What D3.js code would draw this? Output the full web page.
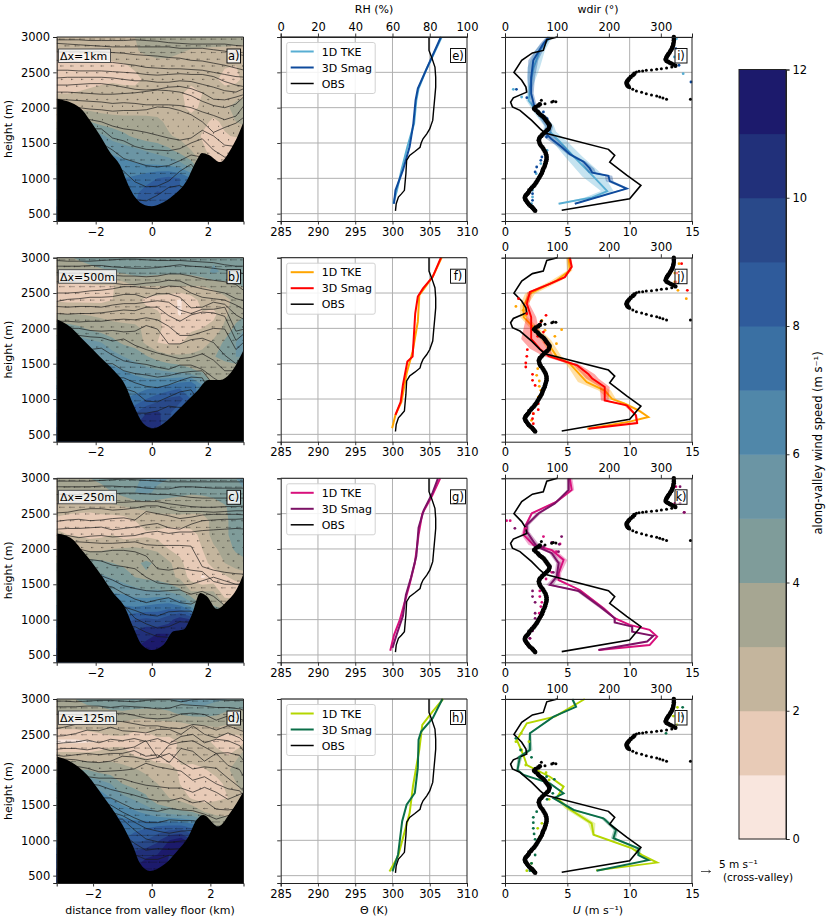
<!DOCTYPE html>
<html>
<head>
<meta charset="utf-8">
<script src="https://d3js.org/d3.v7.min.js"></script>
<style>
  body { margin: 0; background: #fff; }
  text { font-family: "DejaVu Sans", sans-serif; fill: #000; }
</style>
</head>
<body>
<div id="chart"></div>
<script>
// along-valley wind cross sections + theta and wind profiles, 4 resolutions

const levelColors = ['#f9e6de', '#e8cbb7', '#c4b59d', '#a6a692', '#7f9c9a', '#6b95a4', '#5087a9',
  '#3a70a3', '#2f5b9b', '#29498a', '#21307a', '#1c1a6c'];
const levelTicks = [0, 2, 4, 6, 8, 10, 12];

const gridX = [-3.4, -3, -2.6, -2.2, -1.8, -1.4, -1, -0.6, -0.2, 0.2, 0.6, 1, 1.4, 1.8, 2.2, 2.6, 3, 3.4];
const gridZ = [3000, 2800, 2600, 2400, 2200, 2000, 1800, 1600, 1400, 1200, 1000, 800, 600, 400];

// wind speed on gridX / gridZ
const speedA = [
  [2.4,2.4,2.5,2.6,2.7,2.8,2.9,3.0,3.2,3.3,3.5,3.6,3.6,3.7,3.7,3.8,3.7,3.6],
  [2.0,2.0,2.1,2.2,2.4,2.5,2.7,2.9,3.2,3.4,3.4,3.1,2.9,2.8,2.7,2.6,2.5,2.5],
  [1.5,1.3,1.4,1.6,1.7,1.8,1.9,2.2,2.5,2.6,2.6,2.5,2.4,2.3,2.2,2.1,2.0,2.2],
  [1.3,1.2,1.5,1.7,1.8,1.9,1.8,1.7,2.2,2.4,2.5,2.6,2.4,2.4,2.2,1.7,1.8,2.3],
  [2.0,2.0,2.1,2.2,2.3,2.3,2.3,2.4,2.5,2.5,2.5,2.2,1.5,2.0,2.4,2.4,2.5,2.8],
  [3,3,2.8,2.7,2.6,2.5,2.5,2.5,2.6,2.6,2.5,2.3,1.7,2.2,2.5,2.7,3.4,3.8],
  [4,4,4,4,3.6,3.5,3.4,3.4,3.3,3.2,2.8,2.6,2.5,2.3,1.8,2.2,3.0,3.3],
  [5.5,5.5,5.5,5.5,5.2,4.6,4.2,3.8,3.5,3.4,3.1,2.8,2.6,1.9,1.7,1.9,2.1,2.5],
  [6,6,6,6,6,5.7,5.5,5.2,4.9,4.6,4.2,3.6,3,2.2,1.6,1.3,1,1],
  [6.5,6.5,6.5,6.5,6.5,6.5,6.3,6.1,6,5.9,5.7,5.3,4.4,3,2,2,2,2],
  [7,7,7,7,7,7,7,7.2,7.6,8,8.3,8,7,6,6,6,6,6],
  [7.5,7.5,7.5,7.5,7.5,7.5,7.5,7.8,8.4,9.1,8.8,8,7,6,6,6,6,6],
  [8,8,8,8,8,8,8,8,8.4,8.6,8,7,6,6,6,6,6,6],
  [8,8,8,8,8,8,8,8,8.4,8.6,8,7,6,6,6,6,6,6]
];
const speedB = [
  [3.8,3.9,4.1,4.3,4.6,4.8,5,5,5,5,5,5,5,5,4.8,4.7,4.6,4.4],
  [3.5,3.5,3.6,3.7,3.8,4,4.2,4.4,4.4,4.3,4.2,4.2,4.3,4.6,5.2,4.8,4.6,4.4],
  [1.8,1.7,1.7,1.8,1.9,1.9,2.5,3,3,3,3,3,3,3,3.2,3.6,3.9,4.1],
  [1.9,1.8,1.8,1.8,1.8,2,2.4,2.4,1.7,1.5,1.3,0.9,1.5,2.4,2.5,2.7,3.3,3.8],
  [3,3,3,2.9,2.8,2.6,2.5,2.5,2.5,2.2,1.5,0.9,1.6,1.9,1.7,2.8,3.5,4],
  [4.5,4.5,4.2,3.8,3.5,3.4,3.3,3.2,2.8,2.2,1.7,1.8,1.9,2,2.4,3.2,4.3,5.2],
  [5.5,5.5,5.5,5.3,5,4.3,3.8,3.6,2.8,2.0,1.8,1.9,2.3,2.6,3.2,4.2,5,5.4],
  [6,6,6,6,5.8,5.5,5,4.6,4.1,3.6,3.2,3.2,3.2,3.4,3.9,4.5,5,5],
  [6.5,6.5,6.5,6.5,6.5,6.3,6,5.7,5.4,5.1,4.9,4.6,4.2,3.8,3.4,3,3,3],
  [7,7,7,7,7,7,6.8,6.6,6.5,6.7,7,7.5,7.8,6,4,4,4,4],
  [7,7,7,7,7,7,7,7.2,8,8.6,9.2,9.4,8,6,6,6,6,6],
  [8,8,8,8,8,8,8,9,10,10.3,9.2,8,7,6,6,6,6,6],
  [9,9,9,9,9,9,9,10,10.4,10.3,9.4,8,7,6,6,6,6,6],
  [9,9,9,9,9,9,9,10,10.4,10.3,9.4,8,7,6,6,6,6,6]
];
const speedC = [
  [3.7,3.8,3.9,4,4.2,4.4,4.5,4.8,5.2,5.2,5,4.6,4.5,4.5,4.5,4.6,5,5.5],
  [3.3,3.3,3.4,3.5,3.7,4,4.4,5,5.2,4.8,4.4,4.2,4.1,4.2,4.4,4.6,4.8,5],
  [2.8,2.6,2.5,2.5,2.7,2.8,3,3.2,3.2,3.3,3.4,3.5,3.4,3.3,3.4,3.9,4.5,5.2],
  [1.7,1.5,1.4,1.3,1.4,1.4,1.5,2,2.5,2.7,2.6,2.6,2.6,2.7,3.2,3.8,4.4,5],
  [2.2,2,1.9,1.7,1.8,2,1.5,1.6,1.8,1.6,1.3,1.4,1.6,2.3,3.4,3.9,4.2,4.5],
  [3,3,2.7,2.7,2.8,3,3.1,3.2,3,2.8,2,1.5,1.3,2,2.8,3.4,4.2,4.6],
  [5,5,4.6,4.5,4.3,4,3.8,3.8,4.2,3.8,3.2,2.4,1.1,1.5,2.5,3,3.4,3.8],
  [5.5,5.5,5.5,5.4,5.2,4.9,4.5,4,3.8,3.6,3.3,2.8,1.6,0.9,1.2,1.8,2.4,2.5],
  [6,6,6,6,6,5.9,5.7,5.4,5.1,5.2,4.9,4.3,3,3,3,1.2,1,1],
  [7,7,7,7,7,7,7,6.8,7,7.2,7.4,7,5.6,4,4,3,3,3],
  [8,8,8,8,8,8,8.5,9,9.2,9,9.6,10.6,10,7,6,6,6,6],
  [9,9,9,9,9,9,10,10.3,10.8,11,11,10.5,9.5,8,8,8,8,8],
  [10,10,10,10,10,10,10.5,11,11.2,11.2,10.8,9.5,8,8,8,8,8,8],
  [10,10,10,10,10,10,10.5,11,11.2,11.2,10.8,9.5,8,8,8,8,8,8]
];
const speedD = [
  [3.2,3.6,4,4.5,4.7,5,5,5.1,5,4.8,5,5.3,5.5,5.5,5.2,5,4.5,4.4],
  [3,3,3.2,3.3,3.4,3.7,3.8,3.6,3.5,3.6,3.8,4.2,4.4,4.4,4.2,3.8,3.8,3.9],
  [2.2,2.2,2.2,2.4,2.7,2.7,2.5,2.2,2.2,2.5,2.4,2.4,2.7,2.8,3,2.8,3,3.4],
  [0.8,0.8,0.8,0.9,1,1.5,1.7,1.6,1.6,1.8,1.8,2.1,2.3,2.3,1.7,1,1.3,3],
  [2.4,2.4,2.4,2.3,2.5,2.7,2.5,2,1.8,1.8,1.7,2.2,2.3,2.8,2.4,2,3,4],
  [4,4,4,4,3.5,3.4,3.3,3.1,2.8,2.2,2.2,1.9,1.8,1.9,2.5,2.9,3.6,4.8],
  [6,6,6,6,5.6,5,4,3.6,3.4,3,2.8,1.9,1.8,1.7,1.5,2.4,3.2,4.8],
  [6.5,6.5,6.5,6.5,6.5,6,5.3,4.8,4.2,3.2,3,2.6,1.8,1.5,1.8,2,2.6,3.5],
  [7,7,7,7,7,7,6.6,6.2,5.7,5,4.5,4.2,4,3,2.7,2.5,2.5,2.5],
  [7.5,7.5,7.5,7.5,7.5,7.5,7.5,7.6,7.8,8,8.2,8.2,7.6,6.5,4,4,4,4],
  [8,8,8,8,8,8,8,8.5,9,9.8,11,11.6,10,7,7,7,7,7],
  [10,10,10,10,10,10,10,10.5,10.8,11,11,11.2,10,9,8,8,8,8],
  [11,11,11,11,11,11,11,11,11.5,11.5,10.8,10,9,8,8,8,8,8],
  [11,11,11,11,11,11,11,11,11.5,11.5,10.8,10,9,8,8,8,8,8]
];

// terrain height along the section: [km, m]
const terrainA = [[-3.39,2127],[-2.56,2000],[-2.2,1820],[-1.85,1610],[-1.49,1370],[-1.13,1185],[-0.83,900],[-0.6,735],[-0.24,620],[0,604],[0.3,640],[0.77,760],[1.25,970],[1.6,1255],[1.79,1360],[2.02,1335],[2.44,1230],[2.8,1400],[3.1,1630],[3.27,1800]];
const terrainB = [[-3.39,2130],[-2.9,2020],[-2.44,1835],[-1.85,1600],[-1.37,1410],[-0.95,1200],[-0.65,915],[-0.3,655],[0.06,585],[0.42,655],[1,870],[1.6,1105],[2.02,1270],[2.44,1270],[2.8,1365],[3.27,1695]];
const terrainC = [[-3.39,2220],[-2.9,2160],[-2.44,1960],[-1.85,1655],[-1.37,1375],[-0.95,1165],[-0.65,880],[-0.36,645],[0,570],[0.42,645],[0.77,835],[1.13,860],[1.43,1070],[1.73,1375],[1.96,1330],[2.32,1150],[2.68,1260],[3.04,1440],[3.27,1650]];
const terrainD = [[-3.24,2185],[-2.78,2115],[-2.2,1925],[-1.65,1620],[-1.25,1385],[-0.91,1150],[-0.63,910],[-0.4,675],[-0.06,565],[0.4,650],[0.85,840],[1.25,1050],[1.53,1290],[1.76,1360],[2.27,1195],[2.67,1385],[3.13,1690]];

// isentrope heights (m) on gridX
const isoA = [
  [2960,2960,2960,2950,2950,2950,2950,2960,2950,2940,2920,2910,2900,2900,2900,2900,2880,2870],
  [2910,2900,2890,2880,2870,2860,2860,2860,2860,2860,2860,2840,2840,2840,2820,2800,2760,2730],
  [2790,2790,2790,2790,2790,2780,2770,2750,2740,2730,2710,2700,2670,2660,2630,2600,2560,2520],
  [2670,2660,2650,2650,2640,2640,2620,2600,2570,2560,2550,2550,2540,2530,2500,2470,2440,2430],
  [2530,2530,2520,2520,2520,2510,2500,2490,2470,2460,2470,2480,2470,2470,2440,2370,2320,2290],
  [2420,2430,2430,2430,2430,2420,2400,2380,2380,2360,2360,2380,2370,2330,2290,2240,2220,2290],
  [2320,2320,2330,2340,2340,2320,2290,2260,2250,2260,2290,2300,2270,2210,2120,2110,2150,2200],
  [2220,2220,2210,2200,2190,2190,2200,2210,2230,2250,2240,2220,2170,2090,2030,2000,2050,2200],
  [2120,2110,2100,2090,2080,2060,2070,2060,2040,2040,2040,2030,2000,1940,1890,1830,1880,2090],
  [2000,2000,2000,1980,1970,1950,1960,1960,1970,2010,2000,1960,1900,1800,1650,1720,1780,1900],
  [1900,1900,1850,1830,1800,1740,1700,1680,1650,1610,1570,1540,1570,1680,1600,1470,1450,1500],
  [1700,1700,1700,1700,1700,1570,1530,1450,1410,1400,1390,1420,1500,1560,1400,1300,1300,1300],
  [1500,1500,1500,1500,1500,1400,1280,1230,1180,1160,1180,1250,1330,1300,1100,1100,1100,1100],
  [1200,1200,1200,1200,1200,1200,1100,950,880,890,960,1100,1200,1000,1000,1000,1000,1000],
  [700,700,700,700,700,700,700,700,680,760,870,900,800,700,700,700,700,700]
];
const isoB = [
  [2960,2950,2950,2950,2960,2970,2980,2980,2970,2960,2960,2960,2950,2940,2930,2900,2880,2880],
  [2880,2880,2880,2890,2890,2870,2860,2850,2850,2860,2880,2900,2880,2870,2850,2830,2800,2760],
  [2790,2780,2780,2780,2770,2750,2740,2740,2730,2740,2770,2770,2740,2700,2680,2660,2620,2500],
  [2660,2660,2670,2660,2650,2640,2620,2620,2640,2650,2680,2670,2600,2560,2530,2500,2420,2380],
  [2500,2500,2510,2530,2540,2560,2590,2590,2570,2560,2600,2590,2500,2440,2420,2400,2330,2240],
  [2380,2410,2420,2440,2440,2450,2480,2480,2430,2490,2490,2440,2290,2300,2370,2340,2190,2100],
  [2310,2300,2310,2310,2300,2330,2350,2350,2370,2390,2370,2260,2210,2270,2270,2300,1960,2000],
  [2210,2200,2210,2210,2220,2240,2260,2250,2300,2300,2180,2100,2190,2230,2220,2170,1830,1960],
  [2100,2100,2090,2100,2100,2120,2130,2120,2150,2120,2030,1900,1900,1950,2000,1990,1700,1850],
  [2000,2000,2000,1970,1960,1970,1950,1960,2040,1990,1780,1780,1840,1860,1800,1620,1500,1700],
  [1900,1900,1900,1880,1870,1820,1850,1760,1700,1650,1610,1570,1590,1640,1550,1400,1400,1400],
  [1700,1700,1700,1700,1720,1620,1540,1510,1490,1450,1420,1480,1480,1420,1300,1200,1200,1200],
  [1500,1500,1500,1500,1500,1500,1400,1360,1340,1310,1330,1370,1390,1400,1200,1000,1000,1000],
  [1300,1300,1300,1300,1300,1300,1300,1230,1180,1160,1200,1260,1310,1300,1000,1000,1000,1000],
  [1150,1150,1150,1150,1150,1150,1150,1100,970,960,1030,1100,1130,900,800,800,800,800],
  [800,800,800,800,800,800,800,800,800,830,900,880,800,700,700,700,700,700]
];
const isoC = [
  [2960,2960,2960,2960,2970,2980,2990,2980,2970,2960,2950,2950,2950,2950,2950,2950,2950,2950],
  [2880,2880,2880,2880,2890,2890,2880,2880,2860,2850,2850,2880,2880,2870,2860,2860,2860,2860],
  [2770,2770,2770,2770,2770,2780,2790,2790,2780,2770,2770,2750,2730,2720,2720,2720,2720,2720],
  [2640,2650,2660,2660,2650,2660,2660,2670,2670,2670,2640,2620,2600,2590,2590,2600,2600,2610],
  [2510,2520,2550,2570,2570,2550,2560,2580,2610,2610,2570,2530,2530,2530,2520,2530,2540,2540],
  [2390,2410,2420,2400,2410,2430,2440,2410,2530,2500,2470,2430,2450,2480,2490,2490,2490,2480],
  [2280,2290,2290,2300,2310,2270,2290,2310,2340,2360,2300,2280,2350,2400,2410,2420,2420,2430],
  [2190,2190,2160,2180,2190,2170,2180,2190,2230,2250,2220,2240,2240,2260,2270,2280,2290,2280],
  [2100,2100,2100,2090,2080,2080,2090,2100,2060,2050,2050,2050,2040,1750,1700,1670,1650,1640],
  [2000,2000,2000,1960,1960,1980,1980,1960,1900,1720,1700,1730,1700,1680,1540,1500,1500,1500],
  [1900,1900,1900,1850,1830,1770,1750,1720,1600,1520,1500,1490,1500,1550,1600,1550,1500,1500],
  [1700,1700,1700,1700,1620,1560,1480,1440,1410,1400,1410,1420,1360,1400,1330,1200,1200,1200],
  [1500,1500,1500,1500,1500,1460,1370,1290,1240,1280,1310,1240,1220,1300,1100,1100,1100,1100],
  [1400,1400,1400,1400,1400,1300,1180,1130,1070,1050,1110,1120,1120,1000,1000,1000,1000,1000],
  [1200,1200,1200,1200,1200,1200,1200,1020,940,880,900,970,960,900,800,800,800,800],
  [900,900,900,900,900,900,900,900,820,760,750,800,870,870,700,700,700,700]
];
const isoD = [
  [2970,2970,2960,2970,2980,2980,2970,2960,2980,2990,2990,2960,2990,3000,2990,2980,2980,2980],
  [2890,2890,2890,2900,2900,2880,2900,2890,2880,2860,2870,2920,2910,2900,2880,2880,2860,2800],
  [2790,2780,2780,2770,2780,2790,2800,2770,2730,2720,2730,2790,2800,2780,2700,2760,2720,2650],
  [2570,2600,2640,2640,2680,2690,2680,2650,2620,2620,2590,2580,2640,2620,2560,2620,2560,2500],
  [2470,2480,2510,2560,2550,2600,2550,2540,2520,2570,2570,2500,2620,2500,2450,2520,2450,2290],
  [2360,2380,2390,2420,2380,2430,2410,2440,2400,2440,2370,2470,2500,2380,2430,2410,2340,2100],
  [2280,2300,2300,2280,2310,2270,2290,2320,2410,2170,2350,2390,2410,2320,2230,2240,2200,1980],
  [2210,2190,2210,2230,2210,2230,2230,2270,2190,2210,2100,2300,2260,2120,2230,2060,2000,1700],
  [2150,2150,2140,2110,2100,2120,2190,2180,2140,2170,2230,2110,2010,2040,2020,1880,1750,1600],
  [2100,2100,2050,2020,1970,1980,1990,2010,2090,2040,2010,1980,1850,1900,1800,1730,1700,1490],
  [2000,2000,1950,1900,1880,1880,1870,1820,1780,1760,1740,1740,1680,1750,1680,1580,1650,1700],
  [1800,1800,1800,1800,1780,1720,1680,1640,1590,1560,1560,1600,1530,1560,1440,1430,1450,1500],
  [1600,1600,1600,1600,1600,1600,1520,1440,1430,1410,1450,1430,1420,1370,1300,1350,1350,1350],
  [1500,1500,1500,1500,1500,1500,1400,1320,1250,1250,1290,1280,1280,1250,1200,1200,1200,1200],
  [1400,1400,1400,1400,1400,1400,1350,1260,1170,1130,1100,1130,1140,1200,1000,1000,1000,1000],
  [1300,1300,1300,1300,1300,1300,1300,1150,1020,980,970,990,1010,1000,900,900,900,900],
  [1100,1100,1100,1100,1100,1100,1100,960,860,880,870,880,800,700,700,700,700,700],
  [800,800,800,800,800,800,800,800,730,730,790,750,700,700,700,700,700,700]
];

// cross-valley wind (m/s) by gridZ row, arrows point down-valley-left
const crossA = [-2.5,-2.2,-1.5,-1,-0.8,-0.5,-0.3,-0.5,-1,-2,-2.5,-3,-3,-3];
const crossB = [-3,-3,-2.5,-2,-2,-1.5,-1,-1.5,-2.5,-3,-3,-3,-3,-3];
const crossC = [-3,-3,-2.5,-2,-1.2,-1,-0.8,-1.2,-2,-2.5,-2.5,-2,-1.5,-1.5];
const crossD = [-2.5,-3,-3,-2.5,-2,-1,-0.6,-1,-2,-3.5,-5,-5,-4,-4];

// potential temperature profiles: [z, theta]
const thetaObs = [[540,300.4],[640,300.5],[735,300.8],[780,301.2],[830,301.6],[950,301.7],[1065,301.8],[1160,301.85],[1255,301.9],[1325,302.3],[1380,303],[1440,303.7],[1500,303.85],[1560,304.1],[1630,304.6],[1700,305],[1760,305.2],[1820,305.4],[1940,305.5],[2055,305.6],[2170,305.7],[2290,305.8],[2430,305.8],[2575,305.7],[2700,305.3],[2810,304.9],[2900,304.9],[3000,304.9]];
const thetaE1 = [[640,300.1],[830,300.6],[1115,301.2],[1445,302],[1775,302.9],[2105,303.2],[2270,303.5],[2530,304.5],[3000,306.6]];
const thetaE3 = [[640,300.2],[830,300.4],[1115,301.4],[1445,302.3],[1775,302.8],[2105,303.1],[2270,303.4],[2530,304.5],[3000,306.5]];
const thetaF1 = [[585,299.95],[775,300.4],[960,301.2],[1365,301.9],[1670,302.7],[2095,303.4],[2470,303.6],[2730,305.4],[3000,306.6]];
const thetaF3 = [[775,300.4],[960,301.1],[1200,301.4],[1530,302],[1600,302.7],[2210,303.05],[2450,303.4],[2565,304.1],[2730,305.4],[3000,306.5]];
const thetaG1 = [[560,299.7],[780,300.2],[1000,301],[1350,301.9],[1500,302.3],[1800,303],[2200,303.5],[2500,304],[2750,305.3],[3000,306.4]];
const thetaG3 = [[600,300],[800,300.6],[1050,301.4],[1350,301.8],[1600,302.5],[1900,303.2],[2300,303.5],[2550,304.2],[2800,305.4],[3000,306.1]];
const thetaH1 = [[560,299.6],[775,300.75],[1385,302.3],[1765,302.75],[2285,303.6],[2635,304],[2825,305.4],[3000,306.8]];
const thetaH3 = [[560,300],[800,300.75],[1270,301.3],[1505,301.9],[1670,303],[2025,303.4],[2425,303.5],[2540,303.85],[2730,305.4],[3000,306.7]];

// wind speed profiles: [z, U, half width of the shaded band]
const uObs = [[547,4.55],[712,10],[900,10.9],[1045,9.76],[1230,8.4],[1325,8.8],[1410,8.3],[1642,3.2],[1703,2.8],[1820,2.14],[1962,1.2],[2010,0.6],[2080,0.45],[2140,0.67],[2220,1.74],[2292,1.68],[2387,1.34],[2500,0.72],[2670,1.34],[2775,2.2],[2810,3.07],[2960,3.35],[3000,4.2]];
const uI1 = [[640,4.3,0.1],[730,7,0.6],[820,8.2,0.5],[1025,7.1,0.9],[1310,5.5,0.7],[1520,4.4,0.6],[1660,3.6,0.5],[1750,3.5,0.4],[1890,2.8,0.3],[2100,1.9,0.2],[2290,2,0.2],[2570,2.3,0.5],[2810,2.8,0.4],[3000,3.6,0.2]];
const uI3 = [[640,5.6,0.1],[855,9.76,0.2],[960,8.4,0.3],[1035,8.3,0.3],[1080,7,0.3],[1140,6.8,0.35],[1235,6.3,0.2],[1340,5.2,0.2],[1450,4.5,0.3],[1560,3.7,0.4],[1630,3.3,0.4],[1725,3.55,0.3],[1868,3.07,0.35],[1985,2.4,0.2],[2200,2.1,0.2],[2430,2.1,0.3],[2670,2.27,0.4],[2905,3.07,0.25],[3000,3.5,0.2]];
const uJ1 = [[580,6.6,0.1],[680,10,0.1],[745,11.5,0.1],[840,10.7,0.2],[935,9.6,0.2],[1000,8.6,0.3],[1120,8,0.5],[1240,6.55,0.7],[1500,5.2,0.3],[1600,4.15,0.4],[1830,3.3,0.4],[2160,1.5,0.3],[2325,1.5,0.3],[2490,2,0.4],[2680,4.15,0.4],[2820,5.2,0.2],[3000,5.1,0.2]];
const uJ3 = [[580,6.7,0.05],[660,10.6,0.1],[770,10.5,0.1],[910,9.76,0.2],[980,8,0.3],[1170,8,0.4],[1290,7,0.5],[1350,6.7,0.5],[1475,5.8,0.3],[1605,3.5,0.4],[1710,2.8,0.8],[1850,2.1,0.8],[2160,2.1,0.4],[2350,1.75,0.2],[2515,2,0.2],[2630,3.6,0.2],[2725,4.8,0.1],[2870,5.35,0.1],[3000,5.2,0.1]];
const uK1 = [[570,7.5,0.05],[640,11.6,0.1],[760,12.2,0.1],[855,11.6,0.1],[925,10,0.1],[1020,8.8,0.1],[1160,7.9,0.15],[1420,6,0.1],[1560,4.3,0.2],[1655,4.3,0.2],[1845,4.7,0.3],[1985,3.75,0.3],[2055,2.3,0.4],[2200,1.5,0.2],[2315,1.6,0.1],[2505,2.15,0.1],[2670,4.15,0.1],[2835,5.35,0.2],[3000,5.2,0.2]];
const uK3 = [[570,7.5,0.05],[690,11.4,0.1],[770,11.9,0.1],[830,10.2,0.1],[900,10.2,0.1],[960,8.8,0.1],[1020,8.8,0.1],[1185,7.6,0.2],[1405,5.9,0.2],[1490,3.6,0.3],[1610,4.15,0.2],[1800,4.3,0.2],[1940,3.75,0.2],[2035,2.55,0.3],[2245,1.75,0.2],[2340,1.75,0.2],[2505,2.7,0.2],[2645,4,0.1],[2835,5.1,0.1],[3000,5.1,0.1]];
const uL1 = [[575,7.3,0.05],[685,12.2,0.05],[790,11,0.1],[885,10.2,0.15],[1080,7.1,0.1],[1240,6.95,0.3],[1450,5.1,0.3],[1600,4.15,0.1],[1760,4.7,0.1],[1900,3.6,0.05],[2065,1.75,0.05],[2195,1.5,0.05],[2420,0.95,0.05],[2655,1.75,0.05],[2750,4,0.05],[3000,6.4,0.05]];
const uL3 = [[570,7.35,0.05],[720,11.5,0.05],[790,10.7,0.1],[885,10.7,0.25],[1030,8.7,0.2],[1145,8.9,0.2],[1310,7.9,0.2],[1430,5.5,0.2],[1595,3.9,0.1],[1665,4.7,0.1],[1805,3.6,0.1],[1925,1.5,0.1],[1995,1,0.1],[2185,1.2,0.2],[2280,2,0.2],[2515,2,0.1],[2750,3.9,0.1],[2890,5.7,0.1],[3000,5.4,0.1]];

// wind direction scatter: [deg, z]
const dirObs = [[58,540],[56,558],[54,575],[52,592],[49,610],[46,630],[44,650],[42,670],[40,690],[39,708],[38,725],[39,742],[40,760],[42,775],[44,790],[46,810],[47,830],[50,850],[52,870],[55,890],[57,910],[59,930],[61,950],[63,975],[65,1000],[67,1025],[69,1050],[71,1075],[72,1100],[73,1120],[74,1140],[76,1165],[77,1190],[78,1215],[79,1240],[80,1265],[80,1290],[80,1315],[79,1340],[78,1365],[76,1390],[74,1415],[72,1440],[69,1465],[67,1490],[66,1515],[65,1540],[66,1560],[67,1580],[70,1600],[72,1620],[75,1640],[78,1660],[81,1680],[84,1700],[85,1725],[86,1750],[84,1770],[82,1790],[80,1810],[78,1830],[76,1850],[74,1868],[71,1885],[68,1900],[65,1920],[63,1940],[59,1963],[56,1986],[59,2010],[64,2030],[67,2047],[77,2057],[90,2080],[93,2090],[98,2085],[70,2104],
  [311,2118],[357,2118],[304,2137],[298,2151],[292,2165],[282,2180],[272,2198],[263,2217],[253,2236],[246,2259],[240,2283],[238,2297],[236,2311],[235,2325],[234,2340],[234,2357],[235,2373],[237,2392],[239,2410],[242,2433],[246,2457],[249,2480],[253,2505],[258,2514],[265,2519],[272,2528],[282,2533],[292,2542],[301,2552],[311,2561],[321,2575],[328,2594],[324,2613],[320,2625],[317,2637],[314,2650],[311,2660],[309,2680],[310,2700],[311,2717],[312,2730],[313,2740],[314,2752],[315,2764],[317,2782],[318,2800],[320,2818],[321,2835],[322,2852],[323,2870],[324,2888],[324,2906],[325,2930],[325,2953],[325,2975],[325,3000]];
const dirI1 = [[16,2259],[32,2151],[81,1396],[69,1208],[60,1066],[53,830],[53,736],[51,642],[330,2976],[326,2717],[343,2481]];
const dirI3 = [[22,2259],[42,2141],[58,1986],[74,1939],[81,1844],[80,1585],[71,1302],[69,1255],[61,1160],[58,1090],[54.5,901],[53,783],[53,689],[329,2835],[335,2600],[358,2363]];
const dirJ1 = [[333,2538],[349,2420],[335,2915],[327,2783],[327,2656],[21,2311],[35,2255],[40,2184],[71,2113],[77,1972],[109,1981],[96,1887],[99,1783],[63,1429],[61,1335],[66,1255],[66,1179],[69,1123],[64,1028],[61,925],[54.5,792],[51,698],[48,604]];
const dirJ3 = [[351,2538],[340,2915],[331,2783],[329,2656],[26,2420],[42,2208],[79,2184],[69,2090],[74,1948],[63,1887],[77,1807],[43,1698],[42,1604],[40,1510],[40,1453],[53,1349],[53,1264],[58,1193],[64,934],[64,849],[54.5,792],[53,722],[54.5,651]];
const dirK1 = [[3,2401],[10,2401],[40,2292],[74,2175],[79,1575],[90,1670],[99,1962],[106,2071],[67,1406],[67,1326],[71,1245],[69,1184],[66,1090],[48,736],[329,2882],[327,2646],[345,2519]];
const dirK3 = [[19,2292],[109,2175],[104.5,2066],[90,2094],[74,2033],[103,1962],[53,1406],[53,1326],[58,1245],[58,1090],[58,1019],[54.5,901],[53,840],[48,736],[47,604],[93,1670],[337,2882],[337,2646],[345,2519]];
const dirL1 = [[332,2882],[324,2759],[331,2641],[31,2514],[21,2396],[46,2396],[32,2278],[40,2066],[79,1958],[85,1854],[85,1580],[71,1241],[63,1170],[67,1052],[51,675],[42,571],[45,627]];
const dirL3 = [[342,2882],[341,2759],[310,2514],[21,2443],[30,2278],[51,2175],[28,2175],[80,1901],[95,1863],[92,1665],[81,1580],[61,1406],[54.5,1325],[54.5,1250],[54.5,1170],[56,1090],[58,1014],[58,910],[58,792],[51,675],[48,604],[48,571]];

const rowLabels = ['\u0394x=1km', '\u0394x=500m', '\u0394x=250m', '\u0394x=125m'];
const crossLetters = ['a)', 'b)', 'c)', 'd)'];
const thetaLetters = ['e)', 'f)', 'g)', 'h)'];
const windLetters = ['i)', 'j)', 'k)', 'l)'];
const color1D = ['#58aed3', '#ffa500', '#d8107c', '#b4d600'];
const color3D = ['#0e4a9c', '#ff0000', '#7c1266', '#0a6e48'];
const speedRows = [speedA, speedB, speedC, speedD];
const terrainRows = [terrainA, terrainB, terrainC, terrainD];
const isoRows = [isoA, isoB, isoC, isoD];
const crossRows = [crossA, crossB, crossC, crossD];
const theta1D = [thetaE1, thetaF1, thetaG1, thetaH1];
const theta3D = [thetaE3, thetaF3, thetaG3, thetaH3];
const u1D = [uI1, uJ1, uK1, uL1];
const u3D = [uI3, uJ3, uK3, uL3];
const dir1D = [dirI1, dirJ1, dirK1, dirL1];
const dir3D = [dirI3, dirJ3, dirK3, dirL3];
const crossXDomain = [[-3.39, 3.27], [-3.39, 3.27], [-3.39, 3.27], [-3.24, 3.13]];

const width = 830, height = 922;
const rowTop = [37, 257.7, 478.3, 699];
const rowH = 184;
const fs = 11.5;

const svg = d3.select('#chart').append('svg')
  .attr('width', width).attr('height', height)
  .style('display', 'block');

const yScale = top => d3.scaleLinear().domain([396, 3000]).range([top + rowH, top]);
const zTicks = [500, 1000, 1500, 2000, 2500, 3000];

function styleAxis(g) {
  g.selectAll('.domain').attr('stroke', '#222').attr('stroke-width', 1);
  g.selectAll('.tick line').attr('stroke', '#222').attr('stroke-width', 0.9);
  g.selectAll('.tick text').attr('font-size', fs).attr('font-family', '"DejaVu Sans", sans-serif');
}

function tag(g, x, y, txt, w) {
  g.append('rect').attr('x', x).attr('y', y).attr('width', w).attr('height', 14)
    .attr('fill', '#fff').attr('fill-opacity', 0.8).attr('stroke', '#111').attr('stroke-width', 1);
  g.append('text').attr('x', x + w / 2).attr('y', y + 11).attr('text-anchor', 'middle')
    .attr('font-size', fs).text(txt);
}

// ---- left column, filled contours ----
function drawCross(i) {
  const top = rowTop[i];
  const x = d3.scaleLinear().domain(crossXDomain[i]).range([56.7, 243.5]);
  const y = yScale(top);
  const g = svg.append('g');
  const clipId = 'clip' + i;
  g.append('clipPath').attr('id', clipId).append('rect')
    .attr('x', 56.7).attr('y', top).attr('width', 186.8).attr('height', rowH);
  const inner = g.append('g').attr('clip-path', `url(#${clipId})`);

  const nx = gridX.length, nz = gridZ.length;
  const flat = speedRows[i].flat();
  const dx = gridX[1] - gridX[0], dz = gridZ[0] - gridZ[1];
  const project = d3.geoTransform({
    point(px, py) {
      this.stream.point(x(gridX[0] + (px - 0.5) * dx), y(gridZ[0] - (py - 0.5) * dz));
    }
  });
  const contours = d3.contours().size([nx, nz]).thresholds(d3.range(0, 12))(flat);
  inner.selectAll('path.band').data(contours).enter().append('path')
    .attr('class', 'band')
    .attr('d', d3.geoPath(project))
    .attr('fill', d => levelColors[d.value]);

  // isentropes
  const line = d3.line().x((d, k) => x(gridX[k])).y(d => y(d));
  inner.selectAll('path.iso').data(isoRows[i]).enter().append('path')
    .attr('class', 'iso').attr('d', line)
    .attr('fill', 'none').attr('stroke', '#1a1a1a').attr('stroke-width', 0.8).attr('stroke-opacity', 0.85);

  // quiver
  const qx = d3.range(-3.2, 3.3, 0.36), qz = d3.range(500, 3000, 95);
  const arrows = [];
  qz.forEach((z, r) => qx.forEach(q => {
    const row = Math.round((3000 - z) / dz);
    arrows.push({ x: q + (r % 2 ? 0.18 : 0), z, u: crossRows[i][row] });
  }));
  inner.append('path')
    .attr('d', arrows.map(a => {
      const px = x(a.x), py = y(a.z), len = -a.u * 2.2;
      return `M${px + len / 2},${py}L${px - len / 2},${py}M${px - len / 2 + 0.9},${py - 0.5}L${px - len / 2},${py}L${px - len / 2 + 0.9},${py + 0.5}`;
    }).join(''))
    .attr('fill', 'none').attr('stroke', '#111').attr('stroke-width', 0.4).attr('stroke-opacity', 0.75);

  // terrain
  const ter = terrainRows[i];
  const area = d3.area().curve(d3.curveMonotoneX).x(d => x(d[0])).y0(top + rowH + 1).y1(d => y(d[1]));
  inner.append('path').attr('d', area(ter)).attr('fill', '#000');

  g.append('g').attr('transform', `translate(0,${top + rowH})`)
    .call(d3.axisBottom(x).tickValues([-2, 0, 2]).tickSize(3.5).tickFormat(d => d < 0 ? '\u2212' + (-d) : d))
    .call(styleAxis);
  g.append('g').attr('transform', 'translate(56.7,0)')
    .call(d3.axisLeft(y).tickValues(zTicks).tickSize(3.5).tickFormat(d3.format('d')))
    .call(styleAxis);
  g.append('path').attr('d', `M56.7,${top}H243.5V${top + rowH}`).attr('fill', 'none').attr('stroke', '#222');

  g.append('text').attr('transform', `translate(12,${top + 92}) rotate(-90)`)
    .attr('text-anchor', 'middle').attr('font-size', 11).text('height (m)');

  const lw = [52, 58, 58, 58][i];
  g.append('rect').attr('x', 58.5).attr('y', top + 12).attr('width', lw).attr('height', 13.5)
    .attr('fill', '#fff').attr('fill-opacity', 0.8).attr('stroke', '#444').attr('stroke-width', 0.9);
  g.append('text').attr('x', 60).attr('y', top + 23).attr('font-size', 11).text(rowLabels[i]);
  tag(g, 227, top + 12, crossLetters[i], 13.5);
}

// ---- middle column, theta ----
function drawTheta(i) {
  const top = rowTop[i];
  const x = d3.scaleLinear().domain([285, 310]).range([280.7, 467]);
  const y = yScale(top);
  const g = svg.append('g');

  g.append('g').selectAll('line.v').data([290, 295, 300, 305]).enter().append('line')
    .attr('x1', d => x(d)).attr('x2', d => x(d)).attr('y1', top).attr('y2', top + rowH)
    .attr('stroke', '#b0b0b0').attr('stroke-width', 1);
  g.append('g').selectAll('line.h').data(zTicks).enter().append('line')
    .attr('x1', 280.7).attr('x2', 467).attr('y1', d => y(d)).attr('y2', d => y(d))
    .attr('stroke', '#b0b0b0').attr('stroke-width', 1);

  const line = d3.line().x(d => x(d[1])).y(d => y(d[0]));
  g.append('path').attr('d', line(theta1D[i])).attr('fill', 'none').attr('stroke', color1D[i]).attr('stroke-width', 2);
  g.append('path').attr('d', line(theta3D[i])).attr('fill', 'none').attr('stroke', color3D[i]).attr('stroke-width', 2);
  g.append('path').attr('d', line(thetaObs)).attr('fill', 'none').attr('stroke', '#000').attr('stroke-width', 1.4);

  g.append('g').attr('transform', `translate(0,${top + rowH})`)
    .call(d3.axisBottom(x).tickValues([285, 290, 295, 300, 305, 310]).tickSize(3.5))
    .call(styleAxis);
  g.append('g').attr('transform', 'translate(280.7,0)')
    .call(d3.axisLeft(y).tickValues(zTicks).tickSize(3.5).tickFormat(''))
    .call(styleAxis);
  g.append('path').attr('d', `M280.7,${top}H467V${top + rowH}`).attr('fill', 'none').attr('stroke', '#222');

  if (i === 0) {
    const rh = d3.scaleLinear().domain([0, 100]).range([280.7, 467]);
    g.append('g').attr('transform', `translate(0,${top})`)
      .call(d3.axisTop(rh).tickValues([0, 20, 40, 60, 80, 100]).tickSize(3.5))
      .call(styleAxis);
    g.append('text').attr('x', 374).attr('y', 13).attr('text-anchor', 'middle').attr('font-size', 11).text('RH (%)');
  }

  // legend
  const lx = 286.7, ly = top + 5.5;
  g.append('rect').attr('x', lx).attr('y', ly).attr('width', 88.5).attr('height', 51).attr('rx', 2)
    .attr('fill', '#fff').attr('fill-opacity', 0.85).attr('stroke', '#ccc').attr('stroke-width', 0.9);
  [['1D TKE', color1D[i]], ['3D Smag', color3D[i]], ['OBS', '#000']].forEach((d, k) => {
    const ry = ly + 9 + k * 16;
    g.append('line').attr('x1', lx + 4).attr('x2', lx + 27).attr('y1', ry).attr('y2', ry)
      .attr('stroke', d[1]).attr('stroke-width', k === 2 ? 1.5 : 2);
    g.append('text').attr('x', lx + 35).attr('y', ry + 4).attr('font-size', 11).text(d[0]);
  });
  tag(g, 450.5, top + 11.5, thetaLetters[i], 15);
}

// ---- right column, wind ----
function obsRadius(d) {
  // the sonde points pile up into a thick trace on the slow parts of the ascent
  const z = d[1];
  if (z < 2050) return 2.3;
  if (z > 2283 && z < 2490) return 2.2;
  if (z > 2590) return 2.2;
  return 1.5;
}

function drawWind(i) {
  const top = rowTop[i];
  const x = d3.scaleLinear().domain([0, 15]).range([505, 692]);
  const dirX = d3.scaleLinear().domain([0, 360]).range([505, 692]);
  const y = yScale(top);
  const g = svg.append('g');

  g.append('g').selectAll('line.v').data([5, 10]).enter().append('line')
    .attr('x1', d => x(d)).attr('x2', d => x(d)).attr('y1', top).attr('y2', top + rowH)
    .attr('stroke', '#b0b0b0').attr('stroke-width', 1);
  g.append('g').selectAll('line.h').data(zTicks).enter().append('line')
    .attr('x1', 505).attr('x2', 692).attr('y1', d => y(d)).attr('y2', d => y(d))
    .attr('stroke', '#b0b0b0').attr('stroke-width', 1);

  const band = d3.area().y(d => y(d[0])).x0(d => x(d[1] - d[2])).x1(d => x(d[1] + d[2]));
  const line = d3.line().x(d => x(d[1])).y(d => y(d[0]));
  [[u1D[i], color1D[i]], [u3D[i], color3D[i]]].forEach(([prof, col]) => {
    g.append('path').attr('d', band(prof)).attr('fill', col).attr('fill-opacity', 0.35);
    g.append('path').attr('d', line(prof)).attr('fill', 'none').attr('stroke', col).attr('stroke-width', 1.9);
  });
  g.append('path').attr('d', line(uObs)).attr('fill', 'none').attr('stroke', '#000').attr('stroke-width', 1.6);

  [[dir1D[i], color1D[i]], [dir3D[i], color3D[i]]].forEach(([pts, col]) => {
    g.append('g').selectAll('circle').data(pts).enter().append('circle')
      .attr('cx', d => dirX(d[0])).attr('cy', d => y(d[1])).attr('r', 1.4).attr('fill', col);
  });
  g.append('g').selectAll('circle').data(dirObs).enter().append('circle')
    .attr('cx', d => dirX(d[0])).attr('cy', d => y(d[1])).attr('r', obsRadius).attr('fill', '#000');

  g.append('g').attr('transform', `translate(0,${top + rowH})`)
    .call(d3.axisBottom(x).tickValues([0, 5, 10, 15]).tickSize(3.5))
    .call(styleAxis);
  g.append('g').attr('transform', `translate(0,${top})`)
    .call(d3.axisTop(dirX).tickValues([0, 100, 200, 300]).tickSize(3.5))
    .call(styleAxis);
  g.append('g').attr('transform', 'translate(505,0)')
    .call(d3.axisLeft(y).tickValues(zTicks).tickSize(3.5).tickFormat(''))
    .call(styleAxis);
  g.append('path').attr('d', `M692,${top}V${top + rowH}`).attr('fill', 'none').attr('stroke', '#222');

  g.append('rect').attr('x', 675).attr('y', top + 11.5).attr('width', 12).attr('height', 14.5)
    .attr('fill', '#fff').attr('fill-opacity', 0.55).attr('stroke', '#111');
  g.append('text').attr('x', 681).attr('y', top + 23).attr('text-anchor', 'middle').attr('font-size', fs).text(windLetters[i]);
}

d3.range(4).forEach(i => { drawCross(i); drawTheta(i); drawWind(i); });

// titles and bottom labels
svg.append('text').attr('x', 598).attr('y', 13).attr('text-anchor', 'middle').attr('font-size', 11).text('wdir (\u00b0)');
svg.append('text').attr('x', 150).attr('y', 914).attr('text-anchor', 'middle').attr('font-size', 11).text('distance from valley floor (km)');
svg.append('text').attr('x', 374).attr('y', 914).attr('text-anchor', 'middle').attr('font-size', 11).text('\u0398 (K)');
const uLab = svg.append('text').attr('x', 598).attr('y', 914).attr('text-anchor', 'middle').attr('font-size', 11);
uLab.append('tspan').attr('font-style', 'italic').text('U');
uLab.append('tspan').text(' (m s\u207b\u00b9)');

// colorbar
const cb = d3.scaleLinear().domain([0, 12]).range([839, 69.5]);
const cbG = svg.append('g');
cbG.selectAll('rect').data(levelColors).enter().append('rect')
  .attr('x', 739).attr('width', 47)
  .attr('y', (d, k) => cb(k + 1)).attr('height', (d, k) => cb(k) - cb(k + 1) + 0.5)
  .attr('fill', d => d);
cbG.append('g').attr('transform', 'translate(786,0)')
  .call(d3.axisRight(cb).tickValues(levelTicks).tickSize(3.5))
  .call(styleAxis);
cbG.append('rect').attr('x', 739).attr('y', 69.5).attr('width', 47).attr('height', 769.5)
  .attr('fill', 'none').attr('stroke', '#222').attr('stroke-width', 1);
svg.append('text').attr('transform', 'translate(822,443) rotate(-90)')
  .attr('text-anchor', 'middle').attr('font-size', 11.5).text('along-valley wind speed (m s\u207b\u00b9)');

// reference arrow
const arrowScale = d3.scaleLinear().domain([0, 5]).range([0, 9.5]);
const refLen = arrowScale(5);
svg.append('path')
  .attr('d', `M701,871.5H${701 + refLen}M${699 + refLen},870.2L${701 + refLen},871.5L${699 + refLen},872.8`)
  .attr('fill', 'none').attr('stroke', '#111').attr('stroke-width', 0.7);
svg.append('text').attr('x', 719).attr('y', 868).attr('font-size', 10.5).text('5 m s\u207b\u00b9');
svg.append('text').attr('x', 723).attr('y', 880.5).attr('font-size', 10.5).text('(cross-valley)');
</script>
</body>
</html>
